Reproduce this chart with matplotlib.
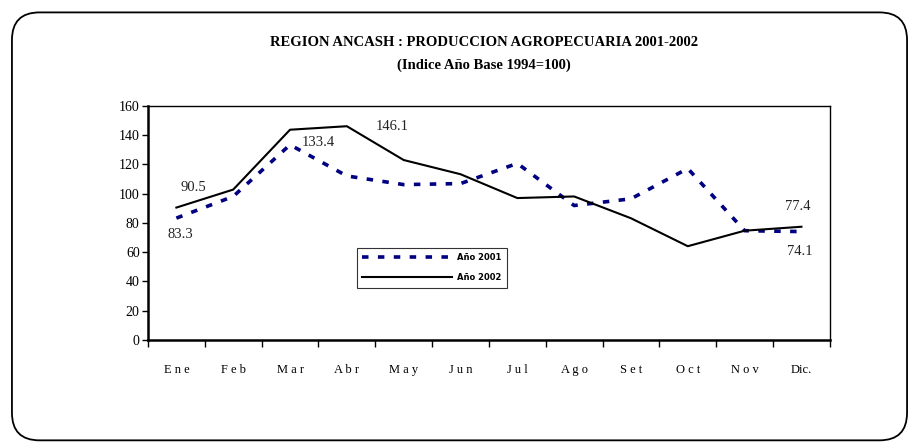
import matplotlib
matplotlib.use("Agg")
import matplotlib.pyplot as plt
from matplotlib.patches import FancyBboxPatch

months = ["Ene", "Feb", "Mar", "Abr", "May", "Jun", "Jul", "Ago", "Set", "Oct", "Nov", "Dic."]
anio_2001 = [83.3, 98.1, 133.4, 112.1, 106.2, 106.9, 120.7, 91.9, 96.5, 117.2, 74.7, 74.1]
anio_2002 = [90.5, 102.8, 143.7, 146.1, 123.0, 113.3, 97.0, 98.1, 83.2, 64.1, 74.7, 77.4]
yticks = [0, 20, 40, 60, 80, 100, 120, 140, 160]

plt.rcParams['font.family'] = ['Liberation Serif', 'DejaVu Serif']

fig = plt.figure(figsize=(9.19, 4.43), dpi=100)
border = FancyBboxPatch((0.013, 0.006), 0.974, 0.966, boxstyle="round,pad=0,rounding_size=0.03",
                        transform=fig.transFigure, fill=False, edgecolor='black', linewidth=1.3,
                        mutation_aspect=919/443)
fig.patches.append(border)

ax = fig.add_axes([0.161, 0.2325, 0.742, 0.5285])
x = list(range(len(months)))
ax.plot(x, anio_2001, color='#000080', linestyle=(0, (1.8, 2.6)), linewidth=2.6, label='Año 2001')
ax.plot(x, anio_2002, color='black', linestyle='-', linewidth=1.5, label='Año 2002')

ax.set_xlim(-0.5, len(months) - 0.5)
ax.set_ylim(0, 160)
ax.set_yticks(yticks)
ax.set_yticklabels([str(v) for v in yticks], fontsize=10)
ax.set_xticks([i + 0.5 for i in range(-1, len(months))])
ax.set_xticklabels([])
ax.set_xticks(x, minor=True)
ax.set_xticklabels([" ".join(m) if not m.endswith('.') else m for m in months], minor=True, fontsize=9)
ax.tick_params(axis='x', which='major', direction='out', length=5, width=1)
ax.tick_params(axis='x', which='minor', length=0, pad=17)
ax.tick_params(axis='y', direction='out', length=4, width=1, pad=2)
for s in ['left', 'bottom']:
    ax.spines[s].set_linewidth(1.8)
for s in ['top', 'right']:
    ax.spines[s].set_linewidth(1.0)

# data labels
lbl = dict(fontsize=10.5, color='#222222')
ax.annotate(f"{anio_2002[0]}", (x[0], anio_2002[0]), xytext=(12, 12), textcoords='offset points', ha='center', **lbl)
ax.annotate(f"{anio_2001[0]}", (x[0], anio_2001[0]), xytext=(3, -14), textcoords='offset points', ha='center', **lbl)
ax.annotate(f"{anio_2001[2]}", (x[2], anio_2001[2]), xytext=(20, -1), textcoords='offset points', ha='center', **lbl)
ax.annotate(f"{anio_2002[3]}", (x[3], anio_2002[3]), xytext=(33, -3), textcoords='offset points', ha='center', **lbl)
ax.annotate(f"{anio_2002[11]}", (x[11], anio_2002[11]), xytext=(-3, 12), textcoords='offset points', ha='center', **lbl)
ax.annotate(f"{anio_2001[11]}", (x[11], anio_2001[11]), xytext=(-1, -17), textcoords='offset points', ha='center', **lbl)

leg = ax.legend(loc='upper left', bbox_to_anchor=(0.306, 0.395), frameon=True, fancybox=False,
                edgecolor='black', prop={'family': 'DejaVu Sans', 'size': 6, 'weight': 'bold'},
                handlelength=10.8, borderpad=0.7, labelspacing=1.3, handletextpad=0.5, borderaxespad=0)
leg.get_frame().set_linewidth(0.8)

fig.text(0.527, 0.905, "REGION ANCASH : PRODUCCION AGROPECUARIA 2001-2002", ha='center', va='center',
         fontsize=10.5, fontweight='bold')
fig.text(0.527, 0.853, "(Indice Año Base 1994=100)", ha='center', va='center', fontsize=10.5, fontweight='bold')

fig.savefig("out.png", dpi=100)
